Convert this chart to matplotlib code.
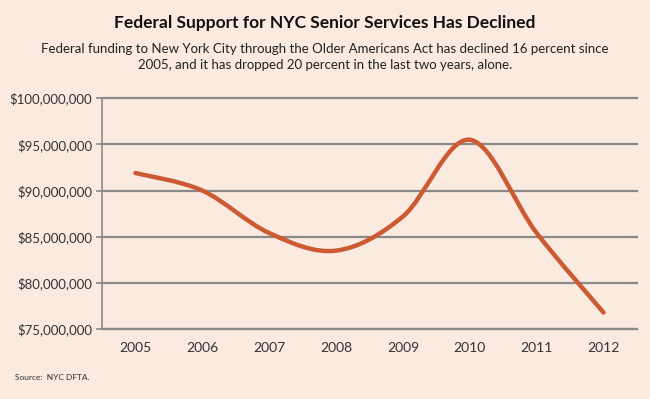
import numpy as np
import matplotlib.pyplot as plt
from matplotlib.path import Path
from matplotlib.patches import PathPatch
from matplotlib.ticker import FuncFormatter

years = [2005, 2006, 2007, 2008, 2009, 2010, 2011, 2012]
funding = [91.9e6, 90.0e6, 85.4e6, 83.5e6, 87.2e6, 95.5e6, 85.4e6, 76.8e6]
yticks = [75e6, 80e6, 85e6, 90e6, 95e6, 100e6]

BG = "#fbeae0"
LINE = "#cc5a32"
GRID = "#8a8a8a"

plt.rcParams['font.family'] = ['Lato', 'DejaVu Sans']


def smooth_path(xs, ys, tension=1 / 6):
    # catmull-rom style bezier through the points, like a spreadsheet "smoothed line"
    xs = np.asarray(xs, float)
    ys = np.asarray(ys, float)
    n = len(xs)
    verts = [(xs[0], ys[0])]
    codes = [Path.MOVETO]
    for i in range(n - 1):
        p0 = max(i - 1, 0)
        p3 = min(i + 2, n - 1)
        c1 = (xs[i] + (xs[i + 1] - xs[p0]) * tension, ys[i] + (ys[i + 1] - ys[p0]) * tension)
        c2 = (xs[i + 1] - (xs[p3] - xs[i]) * tension, ys[i + 1] - (ys[p3] - ys[i]) * tension)
        verts += [c1, c2, (xs[i + 1], ys[i + 1])]
        codes += [Path.CURVE4] * 3
    return Path(verts, codes)


fig = plt.figure(figsize=(6.5, 3.99), dpi=100, facecolor=BG)
ax = fig.add_axes([0.157, 0.175, 0.823, 0.579])
ax.set_facecolor(BG)

ax.add_patch(PathPatch(smooth_path(years, funding), facecolor="none", edgecolor=LINE,
                       linewidth=3.2, capstyle="round", joinstyle="round", zorder=3))

ax.set_xlim(2004.5, 2012.5)
ax.set_ylim(75e6, 100e6)
ax.set_xticks(years)
ax.set_yticks(yticks)
ax.yaxis.set_major_formatter(FuncFormatter(lambda v, p: "${:,.0f}".format(v)))
ax.grid(axis="y", color=GRID, linewidth=1.6, zorder=1)
for gl in ax.get_ygridlines():
    gl.set_clip_on(False)
ax.tick_params(axis="y", length=4, color=GRID, width=1.2, labelsize=9.5, labelcolor="#333333", pad=3)
ax.tick_params(axis="x", length=0, labelsize=10, labelcolor="#333333", pad=9)
for s in ["top", "right"]:
    ax.spines[s].set_visible(False)
ax.spines["left"].set_color(GRID)
ax.spines["left"].set_linewidth(1.2)
ax.spines["bottom"].set_color(GRID)
ax.spines["bottom"].set_linewidth(1.6)

fig.text(0.5, 0.942, "Federal Support for NYC Senior Services Has Declined",
         ha="center", va="center", fontsize=12.5, fontweight="bold", color="#111111")
fig.text(0.5, 0.858, "Federal funding to New York City through the Older Americans Act has declined 16 percent since\n"
         "2005, and it has dropped 20 percent in the last two years, alone.",
         ha="center", va="center", fontsize=9.5, color="#222222", linespacing=1.4)
fig.text(0.023, 0.055, "Source:  NYC DFTA.", ha="left", va="center", fontsize=6, color="#333333")

fig.savefig("out.png", dpi=100, facecolor=BG)
